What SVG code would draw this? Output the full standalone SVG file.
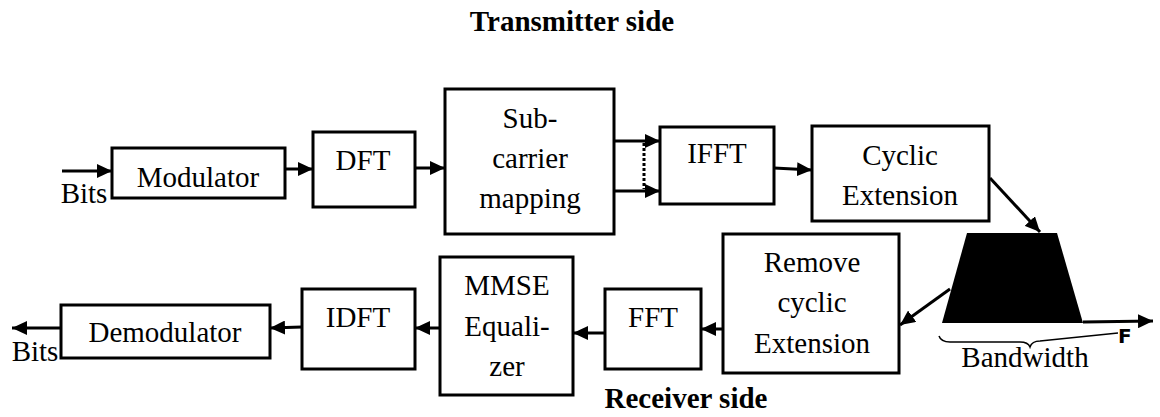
<svg xmlns="http://www.w3.org/2000/svg" width="1160" height="417" viewBox="0 0 1160 417">
<style>
.box{fill:#fff;stroke:#000;stroke-width:3}
.t{font-size:29px;fill:#000;text-anchor:middle}
.title{font-size:29px;font-weight:bold;fill:#000;text-anchor:middle}
.c{fill:none;stroke:#000;stroke-width:3;marker-end:url(#ah)}
</style>
<defs>
<marker id="ah" markerUnits="userSpaceOnUse" markerWidth="16" markerHeight="14" refX="15" refY="7" orient="auto">
<path d="M0 0 L15 7 L0 14 Z" fill="#000"/>
</marker>
</defs>
<rect width="1160" height="417" fill="#fff"/>
<g font-family="'Liberation Serif', 'Times New Roman', Tinos, 'DejaVu Serif', serif">
<text class="title" x="572" y="31">Transmitter side</text>
<text class="title" x="686" y="408">Receiver side</text>

<g id="modulator"><rect class="box" x="112" y="148" width="173" height="50"/><text class="t" x="198" y="187">Modulator</text></g>
<g id="dft"><rect class="box" x="313" y="132" width="102" height="75"/><text class="t" x="363" y="170">DFT</text></g>
<g id="subcarrier"><rect class="box" x="445" y="89" width="169" height="145"/><text class="t" x="530" y="128">Sub-</text><text class="t" x="530" y="168">carrier</text><text class="t" x="530" y="208">mapping</text></g>
<g id="ifft"><rect class="box" x="660" y="127" width="114" height="77"/><text class="t" x="717" y="163">IFFT</text></g>
<g id="cyclic"><rect class="box" x="812" y="126" width="177" height="95"/><text class="t" x="900" y="165">Cyclic</text><text class="t" x="900" y="205">Extension</text></g>
<g id="channel"><polygon points="967,233 1057,233 1083,323 942,323" fill="#000"/>
<path d="M939 336 Q941 342 950 342 L1020 342 Q1028 342 1030 347 Q1032 341 1040 341 L1118 333" fill="none" stroke="#000" stroke-width="1.5"/>
<text class="t" x="1025" y="367">Bandwidth</text>
<text x="1118" y="343" font-family="'DejaVu Sans', sans-serif" font-weight="bold" font-size="20" fill="#000">F</text></g>
<g id="remove"><rect class="box" x="723" y="234" width="176" height="139"/><text class="t" x="812" y="272">Remove</text><text class="t" x="812" y="312">cyclic</text><text class="t" x="812" y="353">Extension</text></g>
<g id="fft"><rect class="box" x="605" y="289" width="96" height="80"/><text class="t" x="653" y="327">FFT</text></g>
<g id="mmse"><rect class="box" x="440" y="257" width="133" height="138"/><text class="t" x="507" y="295">MMSE</text><text class="t" x="507" y="336">Equali-</text><text class="t" x="507" y="376">zer</text></g>
<g id="idft"><rect class="box" x="302" y="289" width="113" height="80"/><text class="t" x="358" y="327">IDFT</text></g>
<g id="demodulator"><rect class="box" x="61" y="305" width="209" height="53"/><text class="t" x="165" y="342">Demodulator</text></g>
<g id="bits-labels"><text class="t" x="84" y="203">Bits</text><text class="t" x="35" y="361">Bits</text></g>
</g>
<g id="connectors">
<path class="c" d="M62 171 L112 171"/>
<path class="c" d="M285 169 L313 169"/>
<path class="c" d="M415 168 L445 168"/>
<path class="c" d="M614 141 L660 141"/>
<path class="c" d="M614 191 L660 191"/>
<path d="M644 143 L644 189" fill="none" stroke="#000" stroke-width="3" stroke-dasharray="3 2"/>
<path class="c" d="M774 168 L812 170"/>
<path class="c" d="M990 178 L1040 232"/>
<path class="c" d="M950 289 L900 325"/>
<path class="c" d="M723 329 L701 329"/>
<path class="c" d="M605 333 L573 333"/>
<path class="c" d="M440 328 L415 328"/>
<path class="c" d="M302 327 L270 328"/>
<path class="c" d="M61 328 L12 328"/>
<path class="c" d="M1083 322 L1153 321"/>
</g>
</svg>
